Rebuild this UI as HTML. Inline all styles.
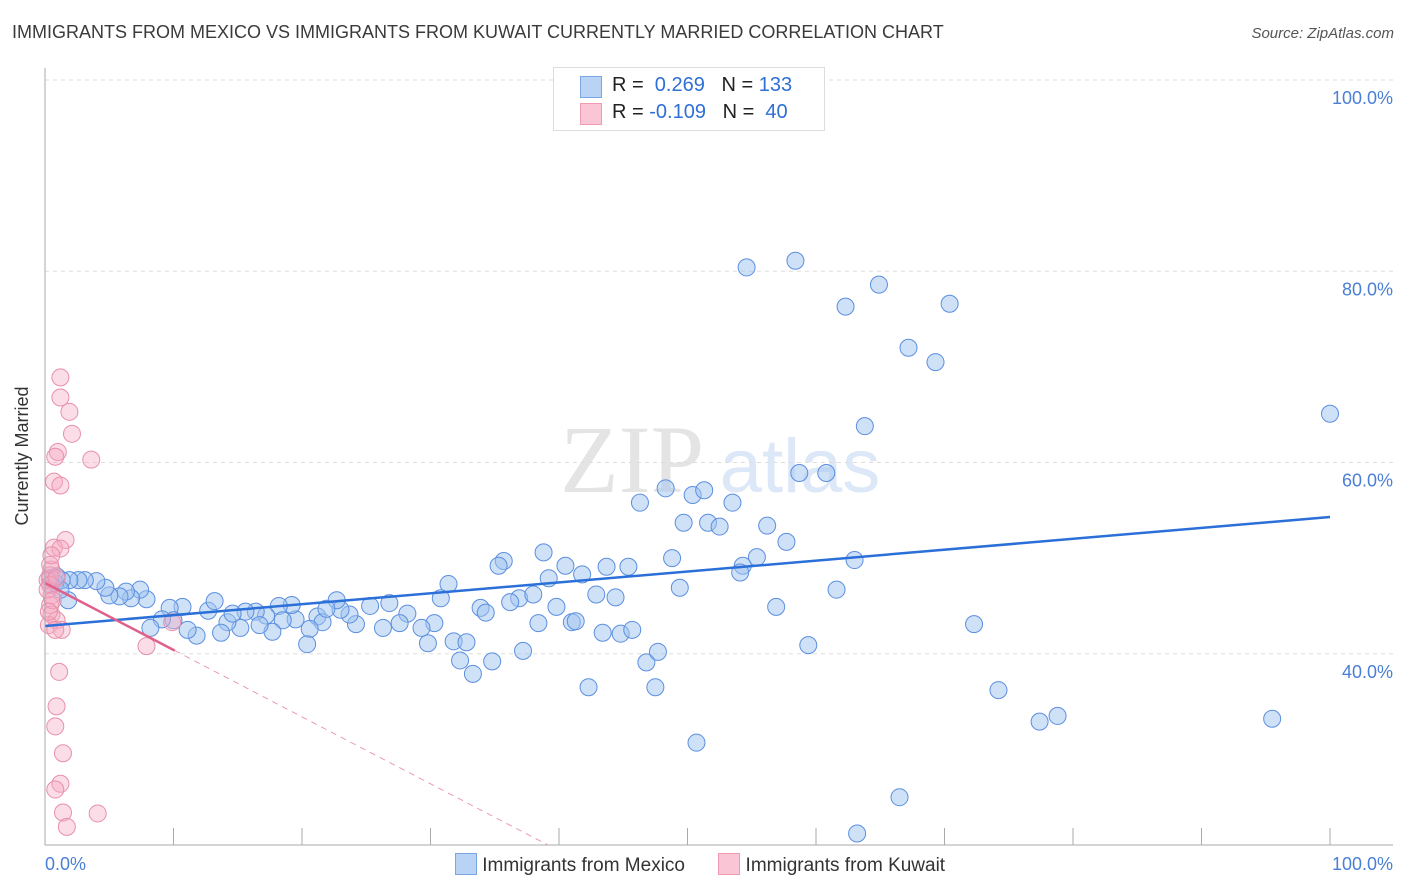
<!DOCTYPE html>
<html><head><meta charset="utf-8"><style>
body{margin:0;width:1406px;height:892px;background:#fff;font-family:"Liberation Sans",sans-serif;overflow:hidden;position:relative}
.t{position:absolute;white-space:nowrap}
</style></head><body>
<div class="t" style="left:12px;top:22px;font-size:18px;color:#3a3a3a">IMMIGRANTS FROM MEXICO VS IMMIGRANTS FROM KUWAIT CURRENTLY MARRIED CORRELATION CHART</div>
<div class="t" style="right:12px;top:25px;font-size:15px;color:#555;font-style:italic">Source: ZipAtlas.com</div>
<svg id="chart" width="1406" height="892" style="position:absolute;left:0;top:0">
<text x="632" y="492" font-size="96" fill="#e4e4e4" font-family="Liberation Serif" text-anchor="middle">ZIP</text>
<text x="800" y="492" font-size="76" fill="#dce7f7" text-anchor="middle">atlas</text>
<g id="grid"></g><g id="marks"></g><g id="lines"></g>
<line x1="45" y1="68" x2="45" y2="845" stroke="#aaa"/>
<line x1="45" y1="845" x2="1393" y2="845" stroke="#aaa"/>
<text x="28" y="456" font-size="18" fill="#333" text-anchor="middle" transform="rotate(-90 28 456)">Currently Married</text>
<text x="45" y="870" font-size="18" fill="#4a7fd6">0.0%</text>
<text x="1393" y="870" font-size="18" fill="#4a7fd6" text-anchor="end">100.0%</text>
</svg>
<div style="position:absolute;left:553px;top:67px;width:270px;height:62px;border:1px solid #ddd;background:#fff;font-size:20px;color:#222">
 <div style="position:absolute;left:26px;top:8px;width:20px;height:20px;background:#b9d3f5;border:1px solid #7aa6e6"></div>
 <div class="t" style="left:58px;top:6px">R = <span style="color:#2f6fd6">&nbsp;0.269</span>&nbsp;&nbsp;&nbsp;N = <span style="color:#2f6fd6">133</span></div>
 <div style="position:absolute;left:26px;top:35px;width:20px;height:20px;background:#fac6d5;border:1px solid #ee9ab3"></div>
 <div class="t" style="left:58px;top:33px">R = <span style="color:#2f6fd6">-0.109</span>&nbsp;&nbsp;&nbsp;N = <span style="color:#2f6fd6">&nbsp;40</span></div>
</div>
<div style="position:absolute;left:455px;top:853px;font-size:19px;color:#333">
 <span style="display:inline-block;width:20px;height:20px;background:#b9d3f5;border:1px solid #7aa6e6;vertical-align:-4px"></span> Immigrants from Mexico
 <span style="display:inline-block;width:20px;height:20px;background:#fac6d5;border:1px solid #ee9ab3;vertical-align:-4px;margin-left:28px"></span> Immigrants from Kuwait
</div>
<script>
const yTicks=[40,60,80,100];
const yTickLabels=["40.0%","60.0%","80.0%","100.0%"];
const xTicks=[10,20,30,40,50,60,70,80,90,100];
const mexicoX=[54.6,58.4,64.9,62.3,70.4,67.2,69.3,63.8,100,58.7,60.8,46.3,48.3,50.4,51.3,53.5,49.7,51.6,52.5,56.2,57.7,55.4,54.3,54.1,48.8,45.4,43.7,40.5,38.8,35.7,35.3,31.4,30.8,39.2,41.8,42.9,44.4,36.9,38.0,36.2,33.9,34.3,39.8,38.4,41.0,41.3,43.4,44.8,45.7,49.4,61.6,63.0,56.9,72.3,59.4,74.2,77.4,78.8,95.5,50.7,66.5,63.2,42.3,47.5,46.8,47.7,37.2,34.8,33.3,32.3,31.8,32.8,29.8,30.3,29.3,28.2,27.6,26.8,25.3,26.3,24.2,23.7,23.0,22.7,21.2,21.6,21.9,20.6,20.4,19.5,19.2,18.2,18.5,17.7,17.2,16.4,16.7,15.6,15.2,14.2,14.6,12.7,13.2,13.7,11.8,11.1,10.7,9.7,10.0,9.1,8.2,7.9,7.4,6.7,6.3,5.8,5.0,4.7,4.0,3.1,2.6,1.9,1.3,0.8,0.4,1.8,1.2,0.4,0.9];
const mexicoY=[80.4,81.1,78.6,76.3,76.6,72.0,70.5,63.8,65.1,58.9,58.9,55.8,57.3,56.6,57.1,55.8,53.7,53.7,53.3,53.4,51.7,50.1,49.2,48.5,50.0,49.1,49.1,49.2,50.6,49.7,49.2,47.3,45.8,47.9,48.3,46.2,45.9,45.8,46.2,45.4,44.8,44.3,44.9,43.2,43.3,43.4,42.2,42.1,42.5,46.9,46.7,49.8,44.9,43.1,40.9,36.2,32.9,33.5,33.2,30.7,25.0,21.2,36.5,36.5,39.1,40.2,40.3,39.2,37.9,39.3,41.3,41.2,41.1,43.2,42.7,44.2,43.2,45.3,45.0,42.7,43.1,44.1,44.6,45.6,43.9,43.3,44.7,42.6,41.0,43.6,45.1,45.0,43.5,42.3,44.0,44.4,43.0,44.4,42.7,43.3,44.2,44.5,45.5,42.2,41.9,42.5,44.9,44.8,43.5,43.6,42.7,45.7,46.7,45.8,46.5,46.0,46.1,46.9,47.6,47.7,47.7,47.7,47.7,47.4,47.2,45.6,46.7,47.9,48.1];
const kuwaitX=[1.2,1.2,1.9,2.1,1.0,0.8,3.6,0.7,1.2,1.6,0.7,1.2,0.5,0.4,0.2,0.4,0.5,0.4,0.5,0.9,0.3,1.3,0.8,7.9,9.9,1.1,0.9,0.8,1.4,1.2,0.8,1.4,4.1,1.7,0.4,0.2,0.6,0.3,0.9,0.5];
const kuwaitY=[68.9,66.8,65.3,63.0,61.1,60.6,60.3,58.0,57.6,51.9,51.1,51.0,48.8,48.2,47.7,47.2,46.1,45.1,44.1,43.5,43.0,42.5,42.5,40.8,43.3,38.1,34.5,32.4,29.6,26.4,25.8,23.4,23.3,21.9,49.3,46.7,45.6,44.4,47.9,50.3];
const mexicoTrend=[42.9,54.3];
const kuwaitTrend=[47.4,-0.70];
const NS='http://www.w3.org/2000/svg';
const sx=v=>45+v*12.85, sy=v=>80+(100-v)*9.5625;
function mk(tag,attrs,parent){const e=document.createElementNS(NS,tag);for(const k in attrs)e.setAttribute(k,attrs[k]);document.getElementById(parent).appendChild(e);return e;}
yTicks.forEach((t,i)=>{
 const g=mk('line',{x1:45,x2:1393,y1:sy(t),y2:sy(t),stroke:'#ddd','stroke-dasharray':'4 4'},'grid');
 
 
 const l=mk('text',{x:1393,y:sy(t)+24,'font-size':18,fill:'#4a7fd6','text-anchor':'end'},'grid');
 l.textContent=yTickLabels[i];
 
 
});
xTicks.forEach(t=>{
 const m=mk('line',{x1:sx(t),x2:sx(t),y1:828,y2:845,stroke:'#aaa'},'grid');
 
 
});
mexicoX.forEach((x,i)=>{
 const c=mk('circle',{cx:sx(x),cy:sy(mexicoY[i]),r:8.5,fill:'rgba(160,196,240,0.5)',stroke:'#5b8fe0','stroke-width':1},'marks');
 
 
});
kuwaitX.forEach((x,i)=>{
 const c=mk('circle',{cx:sx(x),cy:sy(kuwaitY[i]),r:8.5,fill:'rgba(245,170,195,0.4)',stroke:'#e890aa','stroke-width':1},'marks');
 
 
});
const bl=mk('line',{x1:sx(0),y1:sy(mexicoTrend[0]),x2:sx(100),y2:sy(mexicoTrend[1]),stroke:'#2b6fd8','stroke-width':2.5},'lines');


const kEnd=10.1, kZero=(kuwaitTrend[0]-20)/-kuwaitTrend[1];
const kl=mk('line',{x1:sx(0),y1:sy(kuwaitTrend[0]),x2:sx(kEnd),y2:sy(kuwaitTrend[0]+kuwaitTrend[1]*kEnd),stroke:'#e0608a','stroke-width':2.5},'lines');


const kd=mk('line',{x1:sx(kEnd),y1:sy(kuwaitTrend[0]+kuwaitTrend[1]*kEnd),x2:sx(kZero),y2:sy(20),stroke:'#eb9ab4','stroke-width':1,'stroke-dasharray':'6 5'},'lines');


</script>
</body></html>
